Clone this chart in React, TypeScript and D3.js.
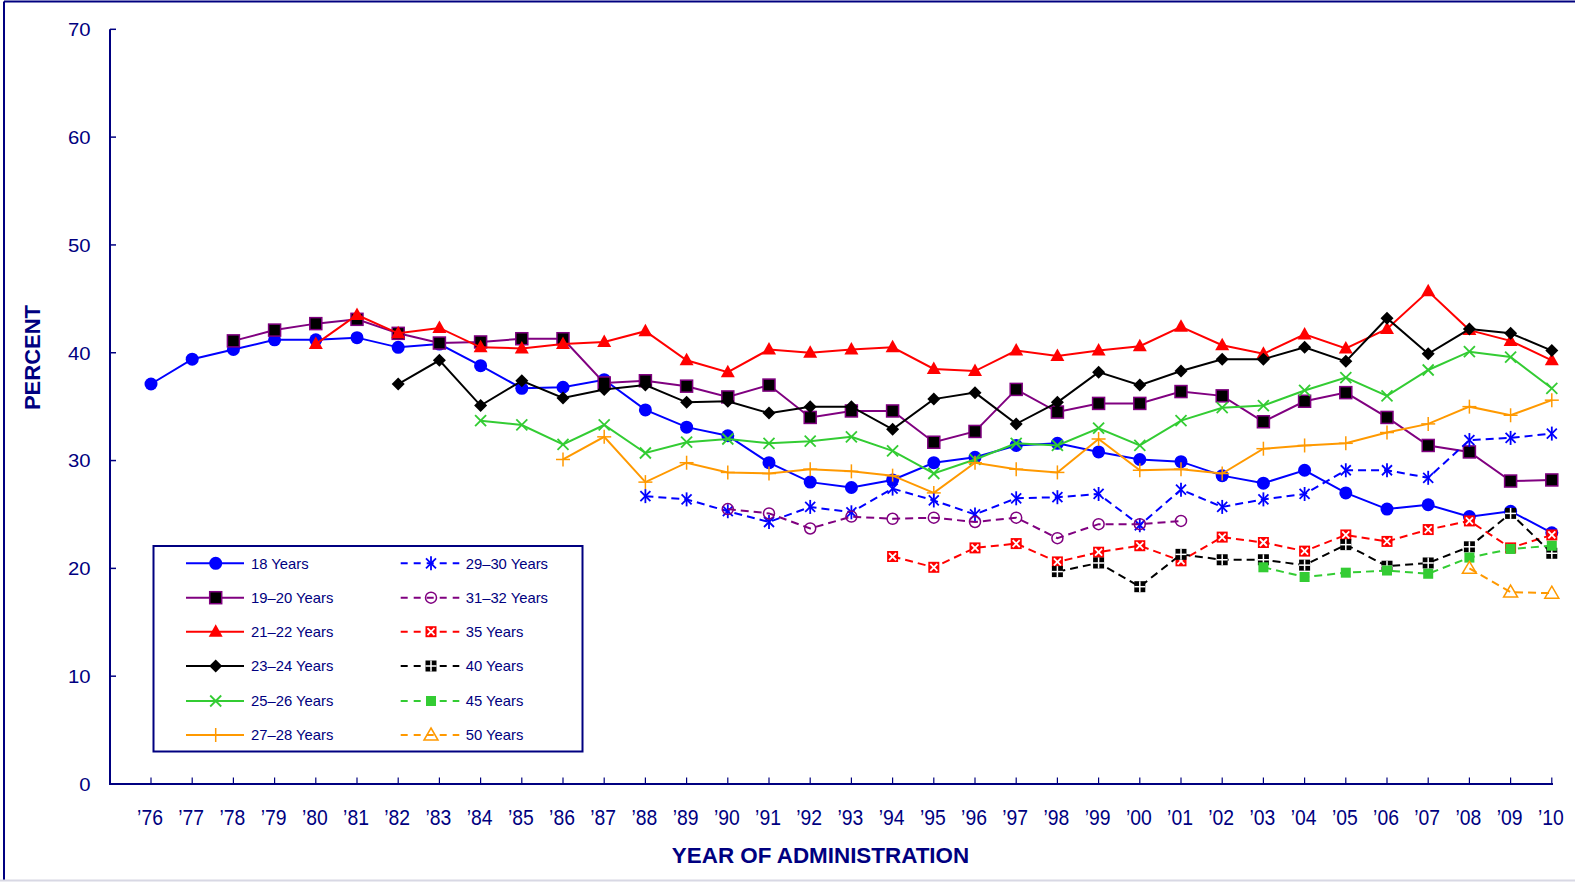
import React from "react";
import * as d3 from "d3";

const W = 1575;
const H = 882;

const yearLabels = ["’76","’77","’78","’79","’80","’81","’82","’83","’84","’85","’86","’87","’88","’89","’90","’91","’92","’93","’94","’95","’96","’97","’98","’99","’00","’01","’02","’03","’04","’05","’06","’07","’08","’09","’10"];
const years = [1976,1977,1978,1979,1980,1981,1982,1983,1984,1985,1986,1987,1988,1989,1990,1991,1992,1993,1994,1995,1996,1997,1998,1999,2000,2001,2002,2003,2004,2005,2006,2007,2008,2009,2010];
const yTicks = [0, 10, 20, 30, 40, 50, 60, 70];

// values start at the given first year
const y18 = [37.1,39.4,40.3,41.2,41.2,41.4,40.5,40.8,38.8,36.7,36.8,37.5,34.7,33.1,32.3,29.8,28.0,27.5,28.2,29.8,30.3,31.4,31.6,30.8,30.1,29.9,28.6,27.9,29.1,27.0,25.5,25.9,24.8,25.3,23.3];
const y1920 = [41.1,42.1,42.7,43.1,41.8,40.9,41.0,41.3,41.3,37.2,37.4,36.9,35.9,37.0,34.0,34.6,34.6,31.7,32.7,36.6,34.5,35.3,35.3,36.4,36.0,33.6,35.5,36.3,34.0,31.4,30.8,28.1,28.2];
const y2122 = [40.8,43.5,41.8,42.3,40.5,40.4,40.8,41.0,42.0,39.3,38.2,40.3,40.0,40.3,40.5,38.5,38.3,40.2,39.7,40.2,40.6,42.4,40.7,39.9,41.7,40.4,42.2,45.7,42.1,41.1,39.3];
const y2324 = [37.1,39.3,35.1,37.4,35.8,36.6,37.0,35.4,35.5,34.4,35.0,35.0,32.9,35.7,36.3,33.4,35.4,38.2,37.0,38.3,39.4,39.4,40.5,39.2,43.2,39.9,42.2,41.8,40.2];
const y2526 = [33.7,33.3,31.5,33.3,30.7,31.7,32.0,31.6,31.8,32.2,30.9,28.8,30.1,31.6,31.4,33.0,31.4,33.7,34.9,35.1,36.5,37.7,36.0,38.4,40.1,39.6,36.7];
const y2728 = [30.1,32.2,28.0,29.8,28.9,28.8,29.2,29.0,28.6,27.0,29.8,29.2,28.9,32.0,29.1,29.2,28.8,31.1,31.4,31.6,32.6,33.4,35.0,34.2,35.6];
const y2930 = [26.7,26.4,25.3,24.3,25.7,25.2,27.4,26.3,25.0,26.5,26.6,26.9,24.0,27.3,25.7,26.4,26.9,29.1,29.1,28.4,31.9,32.1,32.5];
const y3132 = [25.5,25.1,23.7,24.8,24.6,24.7,24.3,24.7,22.8,24.1,24.1,24.4];
const y35 = [21.1,20.1,21.9,22.3,20.6,21.5,22.1,20.7,22.9,22.4,21.6,23.1,22.5,23.6,24.4,21.9,23.1];
const y40 = [19.7,20.5,18.3,21.3,20.8,20.8,20.3,22.2,20.2,20.5,22.0,25.1,21.4];
const y45 = [20.1,19.2,19.6,19.8,19.5,21.0,21.8,22.1];
const y50 = [20.0,17.8,17.7];

const seriesNames = ["18 Years","19–20 Years","21–22 Years","23–24 Years","25–26 Years","27–28 Years","29–30 Years","31–32 Years","35 Years","40 Years","45 Years","50 Years"];
const seriesValues = [y18, y1920, y2122, y2324, y2526, y2728, y2930, y3132, y35, y40, y45, y50];
const seriesStart = [1976, 1978, 1980, 1982, 1984, 1986, 1988, 1990, 1994, 1998, 2003, 2008];
const seriesColors = ["#0000FF","#800080","#FF0000","#000000","#33CC33","#FF9900","#0000FF","#800080","#FF0000","#000000","#33CC33","#FF9900"];
const seriesMarkers = ["circle","squareP","triangle","diamond","x","plus","asterisk","openCircle","sqX","sqPlus","sqGreen","openTri"];
const seriesDashed = [false,false,false,false,false,false,true,true,true,true,true,true];

const NAVY = "#000080";
const FONT = "'Liberation Sans', Arial, sans-serif";

function Marker({ type, x, y, color }: { type: string; x: number; y: number; color: string }) {
  switch (type) {
    case "circle":
      return <circle cx={x} cy={y} r={6.5} fill={color} />;
    case "squareP":
      return <rect x={x - 6} y={y - 6} width={12} height={12} fill="#000" stroke="#800080" strokeWidth={1.5} />;
    case "triangle":
      return <path d={`M${x},${y - 7.5}L${x + 7},${y + 5}L${x - 7},${y + 5}Z`} fill={color} />;
    case "diamond":
      return <path d={`M${x},${y - 6.5}L${x + 6.5},${y}L${x},${y + 6.5}L${x - 6.5},${y}Z`} fill={color} />;
    case "x":
      return (
        <g stroke={color} strokeWidth={1.8}>
          <line x1={x - 5.5} y1={y - 5.5} x2={x + 5.5} y2={y + 5.5} />
          <line x1={x - 5.5} y1={y + 5.5} x2={x + 5.5} y2={y - 5.5} />
        </g>
      );
    case "plus":
      return (
        <g stroke={color} strokeWidth={1.5}>
          <line x1={x - 7} y1={y} x2={x + 7} y2={y} />
          <line x1={x} y1={y - 7} x2={x} y2={y + 7} />
        </g>
      );
    case "asterisk":
      return (
        <g stroke={color} strokeWidth={1.8}>
          <line x1={x - 5} y1={y - 5} x2={x + 5} y2={y + 5} />
          <line x1={x - 5} y1={y + 5} x2={x + 5} y2={y - 5} />
          <line x1={x} y1={y - 7} x2={x} y2={y + 7} />
        </g>
      );
    case "openCircle":
      return <circle cx={x} cy={y} r={5.5} fill="none" stroke={color} strokeWidth={1.5} />;
    case "sqX":
      return (
        <g>
          <rect x={x - 5.5} y={y - 5.5} width={11} height={11} fill={color} />
          <g stroke="#fff" strokeWidth={1.8}>
            <line x1={x - 3.5} y1={y - 3.5} x2={x + 3.5} y2={y + 3.5} />
            <line x1={x - 3.5} y1={y + 3.5} x2={x + 3.5} y2={y - 3.5} />
          </g>
        </g>
      );
    case "sqPlus":
      return (
        <g>
          <rect x={x - 5.5} y={y - 5.5} width={11} height={11} fill={color} />
          <g stroke="#fff" strokeWidth={1.5}>
            <line x1={x - 5.5} y1={y} x2={x + 5.5} y2={y} />
            <line x1={x} y1={y - 5.5} x2={x} y2={y + 5.5} />
          </g>
        </g>
      );
    case "sqGreen":
      return <rect x={x - 5} y={y - 5} width={10} height={10} fill={color} />;
    case "openTri":
      return <path d={`M${x},${y - 7}L${x + 7},${y + 5}L${x - 7},${y + 5}Z`} fill="none" stroke={color} strokeWidth={1.5} />;
    default:
      return null;
  }
}

export default function App() {
  const x = d3.scaleLinear().domain([1976, 2010]).range([151, 1551.8]);
  const y = d3.scaleLinear().domain([0, 70]).range([784, 29.3]);
  const line = d3
    .line<[number, number]>()
    .x((d) => x(d[0]))
    .y((d) => y(d[1]));

  const series = seriesNames.map((name, i) => ({
    name,
    color: seriesColors[i],
    marker: seriesMarkers[i],
    dashed: seriesDashed[i],
    pts: seriesValues[i].map((v, j) => [years[years.indexOf(seriesStart[i]) + j], v] as [number, number]),
  }));

  const legendRows = [563.3, 597.7, 631.7, 666, 701, 735];

  return (
    <svg
      width={W}
      height={H}
      style={{ position: "absolute", left: 0, top: 0, background: "#fff" }}
      fontFamily={FONT}
    >
      <rect x={0} y={0} width={W} height={H} fill="#fff" />
      {/* frame */}
      <line x1={4} y1={1.5} x2={W} y2={1.5} stroke={NAVY} strokeWidth={2} />
      <line x1={4} y1={1.5} x2={4} y2={880} stroke={NAVY} strokeWidth={2} />
      <line x1={0} y1={880.5} x2={W} y2={880.5} stroke="#d8d8e4" strokeWidth={2} />

      {/* axes */}
      <line x1={110} y1={29.3} x2={110} y2={785} stroke={NAVY} strokeWidth={2} />
      <line x1={109} y1={784} x2={1553} y2={784} stroke={NAVY} strokeWidth={2} />
      {yTicks.map((t) => (
        <g key={t}>
          <line x1={110} y1={y(t)} x2={116} y2={y(t)} stroke={NAVY} strokeWidth={1.5} />
          <text
            transform={`translate(90.5,${y(t) + 6.8}) scale(1.08,1)`}
            textAnchor="end"
            fontSize={18.8}
            fill={NAVY}
          >
            {t}
          </text>
        </g>
      ))}
      {years.map((yr, i) => (
        <g key={yr}>
          <line x1={x(yr)} y1={784} x2={x(yr)} y2={777.5} stroke={NAVY} strokeWidth={1.2} />
          <text
            transform={`translate(${x(yr) - 1},825) scale(0.9,1)`}
            textAnchor="middle"
            fontSize={21.5}
            fill={NAVY}
          >
            {yearLabels[i]}
          </text>
        </g>
      ))}
      <text
        x={820.5}
        y={862.5}
        textAnchor="middle"
        fontSize={22.4}
        fontWeight="bold"
        fill={NAVY}
      >
        YEAR OF ADMINISTRATION
      </text>
      <text
        transform="translate(39.5,357.5) rotate(-90)"
        textAnchor="middle"
        fontSize={22}
        fontWeight="bold"
        fill={NAVY}
      >
        PERCENT
      </text>

      {/* series */}
      {series.map((s) => (
        <g key={s.name}>
          <path
            d={line(s.pts) || ""}
            fill="none"
            stroke={s.color}
            strokeWidth={2}
            strokeDasharray={s.dashed ? "8,5" : undefined}
          />
          {s.pts.map((p, j) => (
            <Marker key={j} type={s.marker} x={x(p[0])} y={y(p[1])} color={s.color} />
          ))}
        </g>
      ))}

      {/* legend */}
      <rect x={153.5} y={546} width={429} height={205.5} fill="#fff" stroke={NAVY} strokeWidth={2} />
      {series.map((s, i) => {
        const col = i < 6 ? 0 : 1;
        const row = i % 6;
        const ly = legendRows[row];
        const x1 = col === 0 ? 186 : 400.7;
        const x2 = col === 0 ? 244 : 459.3;
        const mx = col === 0 ? 215.7 : 431;
        const tx = col === 0 ? 251 : 465.7;
        return (
          <g key={s.name}>
            <line
              x1={x1}
              y1={ly}
              x2={x2}
              y2={ly}
              stroke={s.color}
              strokeWidth={2}
              strokeDasharray={s.dashed ? "7,6" : undefined}
            />
            <Marker type={s.marker} x={mx} y={ly} color={s.color} />
            <text x={tx} y={ly + 5.2} fontSize={14.8} fill={NAVY}>
              {s.name}
            </text>
          </g>
        );
      })}
    </svg>
  );
}
